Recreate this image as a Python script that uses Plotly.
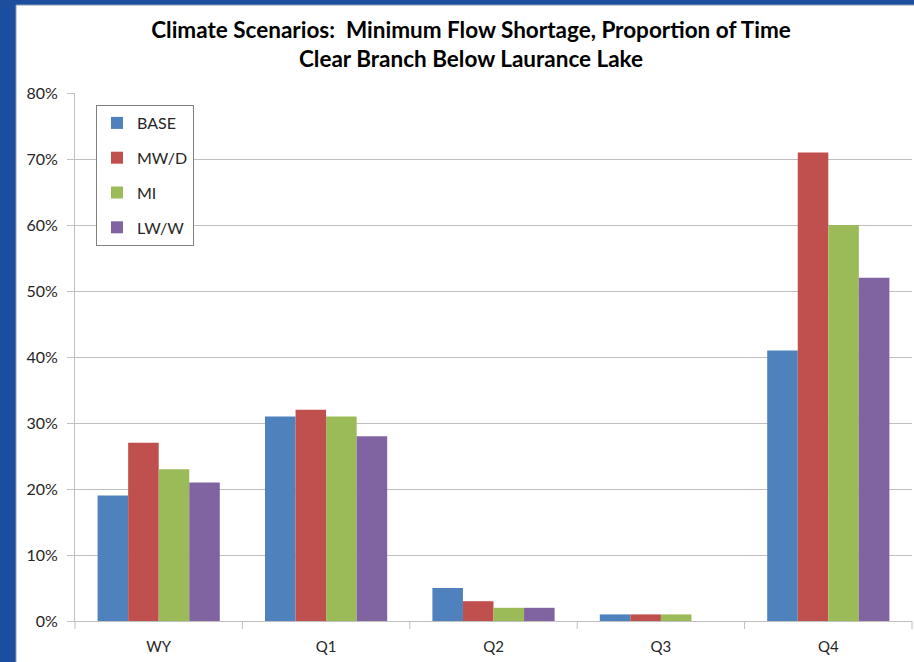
import plotly.graph_objects as go

# Categories and scenario shortage proportions (percent of time)
categories = ["WY", "Q1", "Q2", "Q3", "Q4"]
base = [19, 31, 5, 1, 41]
mwd = [27, 32, 3, 1, 71]
mi = [23, 31, 2, 1, 60]
lww = [21, 28, 2, 0, 52]

series = [
    ("BASE", base, "#4F81BD"),
    ("MW/D", mwd, "#C0504D"),
    ("MI", mi, "#9BBB59"),
    ("LW/W", lww, "#8064A2"),
]

FONT = "Lato"
W, H = 914, 662
ML, MR, MT, MB = 75, 2, 93, 41
PW, PH = W - ML - MR, H - MT - MB

fig = go.Figure()
for i, (name, vals, color) in enumerate(series):
    fig.add_trace(go.Bar(
        x=categories, y=[v / 100 for v in vals], name=name,
        marker=dict(color=color, line=dict(width=0)),
        legendgroup=f"g{i}",
    ))

def px_x(p):
    return (p - ML) / PW

def px_y(p):
    return (H - MB - p) / PH

# white slide panel over the blue frame
fig.add_shape(type="rect", xref="paper", yref="paper", layer="below",
              x0=px_x(16), x1=px_x(W + 5), y0=px_y(H + 5), y1=px_y(5),
              fillcolor="white", line=dict(color="#8A9BB5", width=1))

fig.update_layout(
    width=W, height=H,
    margin=dict(l=ML, r=MR, t=MT, b=MB),
    paper_bgcolor="#1C4EA0",
    plot_bgcolor="rgba(0,0,0,0)",
    barmode="group", bargap=0.27, bargroupgap=0,
    font=dict(family=FONT, color="#262626"),
    title=dict(
        text="<b>Climate Scenarios:  Minimum Flow Shortage, Proportion of Time<br>Clear Branch Below Laurance Lake</b>",
        x=471 / W, xanchor="center", y=1 - 38 / H, yanchor="middle",
        font=dict(family=FONT, size=22.5, color="#000000"),
    ),
    legend=dict(
        x=px_x(96), y=px_y(105), xanchor="left", yanchor="top",
        bgcolor="white", bordercolor="#808080", borderwidth=1,
        font=dict(family=FONT, size=16, color="#262626"),
        traceorder="grouped", tracegroupgap=11,
        itemwidth=30,
    ),
    xaxis=dict(
        showline=True, linecolor="#BFBFBF", linewidth=1,
        ticks="", ticklabelstandoff=12,
        tickfont=dict(family=FONT, size=15, color="#262626"),
        showgrid=False,
    ),
    yaxis=dict(
        range=[0, 0.8], dtick=0.1, tickformat=".0%",
        showline=True, linecolor="#BFBFBF", linewidth=1,
        ticks="outside", ticklen=7, tickcolor="#BFBFBF",
        ticklabelstandoff=6,
        gridcolor="#BFBFBF", gridwidth=1,
        tickfont=dict(family=FONT, size=16, color="#262626"),
        zeroline=False,
    ),
)

# category boundary tick marks along the x axis
for k in range(len(categories) + 1):
    xp = k / len(categories)
    fig.add_shape(type="line", xref="paper", yref="paper",
                  x0=xp, x1=xp, y0=0, y1=-8 / PH,
                  line=dict(color="#BFBFBF", width=1))

fig.write_html("out.html")
